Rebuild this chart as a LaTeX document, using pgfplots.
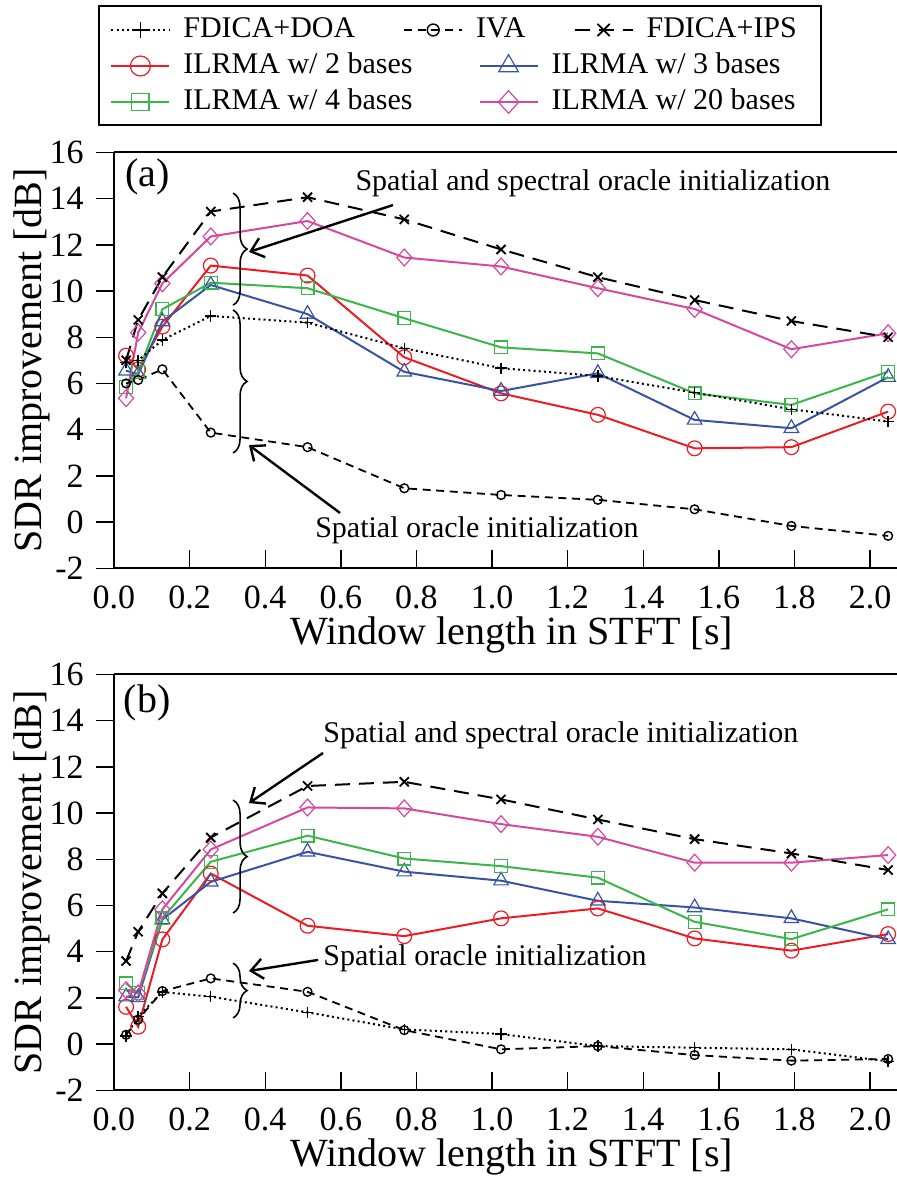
\documentclass[border=0pt]{standalone}
\usepackage{fontspec}
\setmainfont{Liberation Serif}
\setsansfont{Liberation Serif}
\newfontfamily\tnr{Liberation Serif}
\usepackage{pgfplots}
\usepackage{pgfplotstable}
\pgfplotsset{compat=1.18}
\usetikzlibrary{arrows.meta,decorations.pathreplacing,plotmarks}

\definecolor{cR}{RGB}{237,28,36}
\definecolor{cB}{RGB}{57,83,164}
\definecolor{cG}{RGB}{58,181,74}
\definecolor{cM}{RGB}{214,72,160}

\pgfplotstableread{
x     doa   iva   ips   iltwo ilthree ilfour iltwenty
0.032 6.9   6.0   7.0   7.2   6.55  5.85  5.36
0.064 7.0   6.15  8.75  6.6   6.4   6.5   8.2
0.128 7.88  6.61  10.6  8.46  8.68  9.21  10.33
0.256 8.92  3.87  13.44 11.1  10.26 10.36 12.36
0.512 8.63  3.24  14.06 10.67 9.0   10.12 13.03
0.768 7.52  1.46  13.1  7.13  6.5   8.82  11.45
1.024 6.66  1.17  11.8  5.57  5.67  7.56  11.06
1.280 6.32  0.96  10.6  4.64  6.44  7.3   10.12
1.536 5.6   0.55  9.61  3.19  4.42  5.57  9.22
1.792 4.88  -0.17 8.7   3.24  4.06  5.07  7.48
2.048 4.35  -0.6  8.0   4.78  6.27  6.51  8.17
}\tableA

\pgfplotstableread{
x     doa   iva   ips   iltwo ilthree ilfour iltwenty
0.032 0.35  0.4   3.59  1.61  2.05  2.62  2.33
0.064 1.2   1.06  4.86  0.75  2.02  2.2   2.19
0.128 2.25  2.29  6.52  4.53  5.39  5.44  5.83
0.256 2.05  2.84  8.94  7.38  7.02  7.89  8.42
0.512 1.37  2.26  11.17 5.12  8.32  9.02  10.24
0.768 0.63  0.6   11.35 4.67  7.46  8.03  10.2
1.024 0.43  -0.23 10.59 5.44  7.07  7.7   9.52
1.280 -0.09 -0.09 9.72  5.87  6.2   7.2   8.97
1.536 -0.16 -0.48 8.87  4.57  5.91  5.29  7.85
1.792 -0.23 -0.72 8.25  4.04  5.44  4.54  7.85
2.048 -0.75 -0.65 7.53  4.76  4.53  5.83  8.18
}\tableB

\tikzset{
  annot/.style={font=\tnr\fontsize{15}{18}\selectfont, inner sep=0pt},
  arr/.style={line width=1.2pt, -{Straight Barb[length=6pt, width=10pt, line width=1.2pt]}},
  brc/.style={decorate, decoration={brace, amplitude=7pt}, line width=0.8pt},
}

\pgfplotsset{
  doa/.style={black, line width=1pt, dash pattern=on 1pt off 1.6pt, mark=+, mark size=2.8pt, mark options={solid, line width=0.7pt}},
  iva/.style={black, line width=0.9pt, dash pattern=on 4pt off 2.8pt, mark=o, mark size=2.2pt, mark options={solid, line width=0.7pt}},
  ips/.style={black, line width=1pt, dash pattern=on 7.5pt off 4.5pt, mark=x, mark size=3.2pt, mark options={solid, line width=0.9pt}},
  iltwo/.style={cR, line width=1pt, mark=o, mark size=3.7pt, mark options={solid, line width=0.6pt, fill=none}},
  ilthree/.style={cB, line width=1pt, mark=triangle, mark size=4.2pt, mark options={solid, line width=0.6pt, fill=none}},
  ilfour/.style={cG, line width=1pt, mark=square, mark size=3.2pt, mark options={solid, line width=0.6pt, fill=none}},
  iltwenty/.style={cM, line width=1pt, mark=diamond, mark size=4.2pt, mark options={solid, line width=0.6pt, fill=none, xscale=1.2}},
  common/.style={
    scale only axis, width=391.5pt, height=207.9pt,
    xmin=0, xmax=2.0714, ymin=-2, ymax=16,
    clip=false,
    axis x line*=box, axis y line*=left,
    axis line style={-, line width=1pt},
    xtick={0,0.2,0.4,0.6,0.8,1.0,1.2,1.4,1.6,1.8,2.0},
    ytick={-2,0,2,4,6,8,10,12,14,16},
    xtick pos=left, ytick pos=left,
    xtick align=inside, ytick align=outside,
    major tick length=9pt,
    every tick/.style={black, line width=0.7pt},
    /pgf/number format/assume math mode=true,
    ticklabel style={font=\tnr\fontsize{17}{20}\selectfont},
    xticklabel style={inner sep=0pt, anchor=north, /pgf/number format/.cd, fixed, fixed zerofill, precision=1},
    xticklabel shift=8.5pt,
    yticklabel style={inner sep=0pt, anchor=east},
    yticklabel shift=6pt,
    label style={font=\tnr\fontsize{20}{24}\selectfont},
    xlabel={Window length in STFT [s]},
    ylabel={SDR improvement [dB]},
    xlabel style={at={(axis description cs:0.508,-0.1827)}, anchor=base, inner sep=0pt},
    ylabel style={at={(axis description cs:-0.1047,0.5)}, anchor=center, inner sep=0pt},
    legend cell align=left,
    legend image code/.code={\draw[mark repeat=2,mark phase=2,#1,every mark/.append style={scale=1.35}] plot coordinates {(0pt,0pt) (14.5pt,0pt) (29pt,0pt)};},
  },
}

\begin{document}
\begin{tikzpicture}
\path[use as bounding box] (0pt,0pt) rectangle (448.5pt,-592.5pt);

% ---------------- panel (a) ----------------
\begin{axis}[common,
  at={(57pt,-284.1pt)}, anchor=south west,
  legend columns=3,
  legend style={at={(-0.0051,1.2944)}, anchor=west, draw=none, fill=none, inner sep=0pt,
    font=\tnr\fontsize{15}{18}\selectfont,
    nodes={inner sep=0pt, text height=11pt, text depth=3.5pt},
    column sep=0pt, row sep=3.5pt,
    /tikz/every odd column/.append style={column sep=6.5pt},
    /tikz/every even column/.append style={column sep=24pt}},
]
\addplot[iltwo, forget plot] table[x=x, y=iltwo] {\tableA};
\addplot[ilthree, forget plot] table[x=x, y=ilthree] {\tableA};
\addplot[ilfour, forget plot] table[x=x, y=ilfour] {\tableA};
\addplot[iltwenty, forget plot] table[x=x, y=iltwenty] {\tableA};
\addplot[doa] table[x=x, y=doa] {\tableA};
\addlegendentry{FDICA+DOA}
\addplot[iva] table[x=x, y=iva] {\tableA};
\addlegendentry{IVA}
\addplot[ips] table[x=x, y=ips] {\tableA};
\addlegendentry{FDICA+IPS}

\node[font=\tnr\fontsize{20}{22}\selectfont, inner sep=0pt] at (axis cs:0.088,14.94) {(a)};
\node[annot, anchor=west] at (axis cs:0.638,14.68) {Spatial and spectral oracle initialization};
\draw[arr] (axis cs:0.738,13.72) -- (axis cs:0.357,11.69);
\draw[brc] (axis cs:0.315,14.24) -- (axis cs:0.315,9.39);
\draw[brc] (axis cs:0.315,9.18) -- (axis cs:0.315,2.99);
\draw[arr] (axis cs:0.598,0.39) -- (axis cs:0.357,3.33);
\node[annot] at (axis cs:0.96,-0.35) {Spatial oracle initialization};
\end{axis}

% ---------------- panel (b) ----------------
\begin{axis}[common,
  at={(57pt,-545.1pt)}, anchor=south west,
  legend columns=2,
  legend style={at={(-0.0051,2.4199)}, anchor=west, draw=none, fill=none, inner sep=0pt,
    font=\tnr\fontsize{15}{18}\selectfont,
    nodes={inner sep=0pt, text height=11pt, text depth=3.5pt},
    column sep=0pt, row sep=3.5pt,
    /tikz/every odd column/.append style={column sep=6.5pt},
    /tikz/every even column/.append style={column sep=33pt}},
]
\addplot[iltwo] table[x=x, y=iltwo] {\tableB};
\addlegendentry{ILRMA w/ 2 bases}
\addplot[ilthree] table[x=x, y=ilthree] {\tableB};
\addlegendentry{ILRMA w/ 3 bases}
\addplot[ilfour] table[x=x, y=ilfour] {\tableB};
\addlegendentry{ILRMA w/ 4 bases}
\addplot[iltwenty] table[x=x, y=iltwenty] {\tableB};
\addlegendentry{ILRMA w/ 20 bases}
\addplot[doa, forget plot] table[x=x, y=doa] {\tableB};
\addplot[iva, forget plot] table[x=x, y=iva] {\tableB};
\addplot[ips, forget plot] table[x=x, y=ips] {\tableB};

\node[font=\tnr\fontsize{20}{22}\selectfont, inner sep=0pt] at (axis cs:0.088,14.76) {(b)};
\node[annot, anchor=west] at (axis cs:0.553,13.38) {Spatial and spectral oracle initialization};
\draw[arr] (axis cs:0.553,12.6) -- (axis cs:0.357,10.43);
\draw[brc] (axis cs:0.315,10.56) -- (axis cs:0.315,5.67);
\node[annot, anchor=west] at (axis cs:0.553,3.72) {Spatial oracle initialization};
\draw[arr] (axis cs:0.54,3.64) -- (axis cs:0.357,3.16);
\draw[brc] (axis cs:0.315,3.5) -- (axis cs:0.315,1.13);
\end{axis}

% legend frame
\draw[line width=1pt] (49.5pt,-3pt) rectangle (410.5pt,-62.5pt);
\end{tikzpicture}
\end{document}
